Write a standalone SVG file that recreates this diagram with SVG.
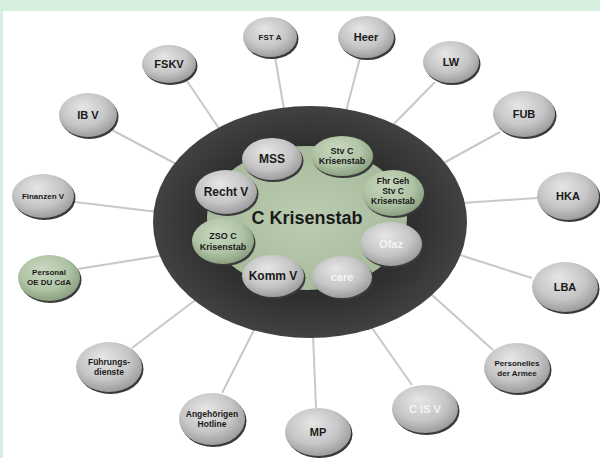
<svg xmlns="http://www.w3.org/2000/svg" width="600" height="458" viewBox="0 0 600 458">
<defs>
<radialGradient id="gGray" cx="0.45" cy="0.4" r="0.65" fx="0.4" fy="0.3">
<stop offset="0" stop-color="#e6e6e6"/>
<stop offset="0.6" stop-color="#c6c6c6"/>
<stop offset="1" stop-color="#959595"/>
</radialGradient>
<radialGradient id="gGreen" cx="0.45" cy="0.4" r="0.65" fx="0.4" fy="0.3">
<stop offset="0" stop-color="#c9d8c0"/>
<stop offset="0.6" stop-color="#b0c4a6"/>
<stop offset="1" stop-color="#849a7a"/>
</radialGradient>
<radialGradient id="gDark" cx="0.5" cy="0.5" r="0.55">
<stop offset="0.6" stop-color="#2f2f2f"/>
<stop offset="1" stop-color="#474747"/>
</radialGradient>
<radialGradient id="gCore" cx="0.5" cy="0.5" r="0.6">
<stop offset="0" stop-color="#bccdb2"/>
<stop offset="1" stop-color="#a3b898"/>
</radialGradient>
</defs>
<style>
.sh{fill:#3a3a3a}
.g{fill:url(#gGray)}
.gr{fill:url(#gGreen)}
.t{font-family:"Liberation Sans",Arial,sans-serif;font-weight:bold;fill:#1a1a1a;text-anchor:middle}
.w{fill:#f4f4f4}
.c line{stroke:#c8c8c8;stroke-width:2}
</style>
<rect width="600" height="458" fill="#ffffff"/>
<rect width="600" height="11" fill="#d6eedd"/>
<rect width="3" height="458" fill="#d6eedd"/>
<g class="c" id="connectors">
<line x1="275" y1="57" x2="285" y2="115"/>
<line x1="187" y1="81" x2="220" y2="130"/>
<line x1="112" y1="130" x2="178" y2="165"/>
<line x1="75" y1="202" x2="158" y2="212"/>
<line x1="360" y1="58" x2="345" y2="115"/>
<line x1="435" y1="82" x2="390" y2="128"/>
<line x1="500" y1="132" x2="440" y2="165"/>
<line x1="537" y1="198" x2="462" y2="203"/>
<line x1="532" y1="278" x2="460" y2="255"/>
<line x1="493" y1="350" x2="432" y2="295"/>
<line x1="412" y1="385" x2="372" y2="328"/>
<line x1="316" y1="408" x2="313" y2="335"/>
<line x1="222" y1="393" x2="255" y2="328"/>
<line x1="132" y1="348" x2="198" y2="298"/>
<line x1="78" y1="269" x2="165" y2="255"/>
</g>
<g id="hub">
<ellipse cx="310" cy="222" rx="157" ry="116" fill="url(#gDark)"/>
<ellipse cx="307" cy="218" rx="100" ry="72" fill="url(#gCore)"/>
<text class="t" x="307" y="224" font-size="18">C Krisenstab</text>
</g>
<g id="n-mss"><ellipse class="sh" cx="273.5" cy="161" rx="30" ry="21"/><ellipse class="g" cx="272" cy="159" rx="30" ry="21"/><text class="t" x="272" y="163" font-size="12">MSS</text></g>
<g id="n-stvc"><ellipse class="sh" cx="343.5" cy="158" rx="31" ry="20"/><ellipse class="gr" cx="342" cy="156" rx="31" ry="20"/><text class="t" x="342" y="154" font-size="9">Stv C</text><text class="t" x="342" y="164" font-size="9">Krisenstab</text></g>
<g id="n-fhrgeh"><ellipse class="sh" cx="394.5" cy="195" rx="31" ry="23"/><ellipse class="gr" cx="393" cy="193" rx="31" ry="23"/><text class="t" x="393" y="184" font-size="8.5">Fhr Geh</text><text class="t" x="393" y="194" font-size="8.5">Stv C</text><text class="t" x="393" y="204" font-size="8.5">Krisenstab</text></g>
<g id="n-ofaz"><ellipse class="sh" cx="392.5" cy="246" rx="31" ry="22"/><ellipse class="g" cx="391" cy="244" rx="31" ry="22"/><text class="t w" x="391" y="248" font-size="11">Ofaz</text></g>
<g id="n-care"><ellipse class="sh" cx="343.5" cy="279" rx="30" ry="21"/><ellipse class="g" cx="342" cy="277" rx="30" ry="21"/><text class="t w" x="342" y="281" font-size="11">care</text></g>
<g id="n-kommv"><ellipse class="sh" cx="274.5" cy="278" rx="31" ry="21"/><ellipse class="g" cx="273" cy="276" rx="31" ry="21"/><text class="t" x="273" y="280" font-size="12">Komm V</text></g>
<g id="n-zso"><ellipse class="sh" cx="224.5" cy="243" rx="31" ry="23"/><ellipse class="gr" cx="223" cy="241" rx="31" ry="23"/><text class="t" x="223" y="239" font-size="9">ZSO C</text><text class="t" x="223" y="250" font-size="9">Krisenstab</text></g>
<g id="n-rechtv"><ellipse class="sh" cx="227.5" cy="194" rx="31" ry="22"/><ellipse class="g" cx="226" cy="192" rx="31" ry="22"/><text class="t" x="226" y="196" font-size="12">Recht V</text></g>
<g id="n-fsta"><ellipse class="sh" cx="271.5" cy="39" rx="27" ry="20"/><ellipse class="g" cx="270" cy="37" rx="27" ry="20"/><text class="t" x="270" y="40" font-size="8">FST A</text></g>
<g id="n-fskv"><ellipse class="sh" cx="170.5" cy="66" rx="27" ry="19"/><ellipse class="g" cx="169" cy="64" rx="27" ry="19"/><text class="t" x="169" y="68" font-size="11">FSKV</text></g>
<g id="n-ibv"><ellipse class="sh" cx="89.5" cy="117" rx="29" ry="22"/><ellipse class="g" cx="88" cy="115" rx="29" ry="22"/><text class="t" x="88" y="119" font-size="11">IB V</text></g>
<g id="n-finanzen"><ellipse class="sh" cx="44.5" cy="198" rx="31" ry="22"/><ellipse class="g" cx="43" cy="196" rx="31" ry="22"/><text class="t" x="43" y="199" font-size="8">Finanzen V</text></g>
<g id="n-personal"><ellipse class="sh" cx="50.5" cy="280" rx="31" ry="23"/><ellipse class="gr" cx="49" cy="278" rx="31" ry="23"/><text class="t" x="49" y="275" font-size="8">Personal</text><text class="t" x="49" y="285" font-size="8">OE DU CdA</text></g>
<g id="n-fuehrung"><ellipse class="sh" cx="110.5" cy="369" rx="33" ry="25"/><ellipse class="g" cx="109" cy="367" rx="33" ry="25"/><text class="t" x="109" y="365" font-size="8.5">Führungs-</text><text class="t" x="109" y="375" font-size="8.5">dienste</text></g>
<g id="n-angeh"><ellipse class="sh" cx="213.5" cy="421" rx="33" ry="26"/><ellipse class="g" cx="212" cy="419" rx="33" ry="26"/><text class="t" x="212" y="417" font-size="8.5">Angehörigen</text><text class="t" x="212" y="427" font-size="8.5">Hotline</text></g>
<g id="n-mp"><ellipse class="sh" cx="319.5" cy="434" rx="33" ry="24"/><ellipse class="g" cx="318" cy="432" rx="33" ry="24"/><text class="t" x="318" y="436" font-size="11">MP</text></g>
<g id="n-cisv"><ellipse class="sh" cx="426.5" cy="411" rx="33" ry="24"/><ellipse class="g" cx="425" cy="409" rx="33" ry="24"/><text class="t w" x="425" y="413" font-size="11">C IS V</text></g>
<g id="n-personelles"><ellipse class="sh" cx="518.5" cy="370" rx="33" ry="25"/><ellipse class="g" cx="517" cy="368" rx="33" ry="25"/><text class="t" x="517" y="366" font-size="8">Personelles</text><text class="t" x="517" y="376" font-size="8">der Armee</text></g>
<g id="n-lba"><ellipse class="sh" cx="566.5" cy="289" rx="33" ry="25"/><ellipse class="g" cx="565" cy="287" rx="33" ry="25"/><text class="t" x="565" y="291" font-size="11">LBA</text></g>
<g id="n-hka"><ellipse class="sh" cx="569.5" cy="198" rx="31" ry="24"/><ellipse class="g" cx="568" cy="196" rx="31" ry="24"/><text class="t" x="568" y="200" font-size="11">HKA</text></g>
<g id="n-fub"><ellipse class="sh" cx="525.5" cy="116" rx="31" ry="23"/><ellipse class="g" cx="524" cy="114" rx="31" ry="23"/><text class="t" x="524" y="118" font-size="11">FUB</text></g>
<g id="n-lw"><ellipse class="sh" cx="452.5" cy="64" rx="28" ry="21"/><ellipse class="g" cx="451" cy="62" rx="28" ry="21"/><text class="t" x="451" y="66" font-size="11">LW</text></g>
<g id="n-heer"><ellipse class="sh" cx="367.5" cy="39" rx="28" ry="21"/><ellipse class="g" cx="366" cy="37" rx="28" ry="21"/><text class="t" x="366" y="41" font-size="11">Heer</text></g>
</svg>
